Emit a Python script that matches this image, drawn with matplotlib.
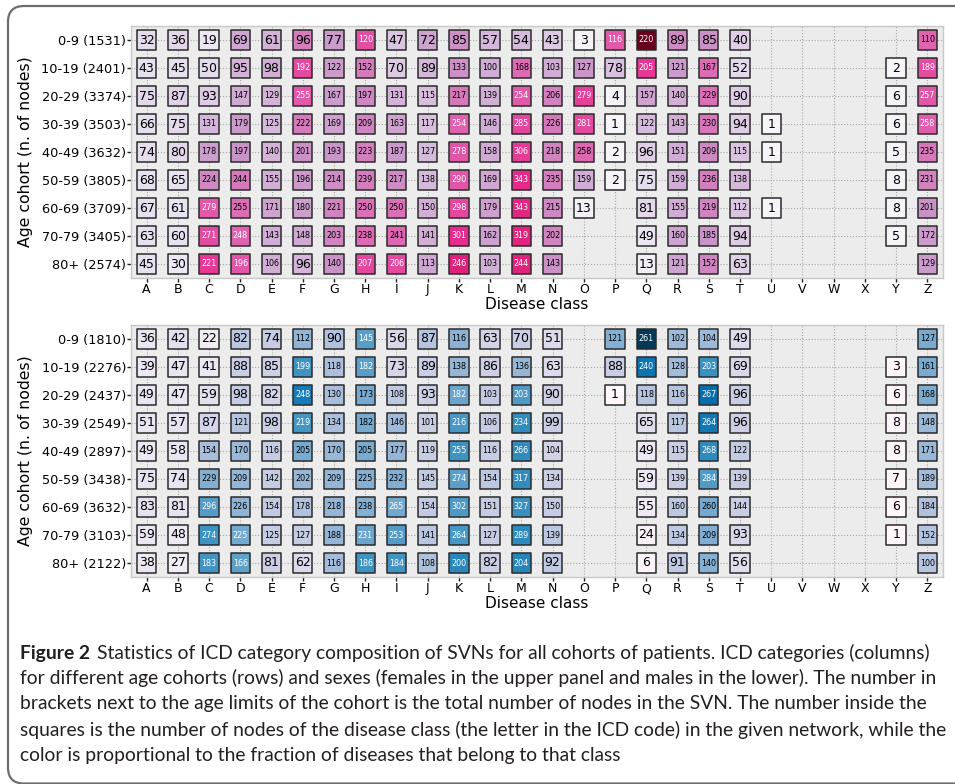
import numpy as np
import matplotlib
matplotlib.use("Agg")
import matplotlib.pyplot as plt
from matplotlib.patches import FancyBboxPatch

classes = list("ABCDEFGHIJKLMNOPQRSTUVWXYZ")
ages = ["0-9", "10-19", "20-29", "30-39", "40-49", "50-59", "60-69", "70-79", "80+"]

# total nodes per cohort network
female_totals = [1531, 2401, 3374, 3503, 3632, 3805, 3709, 3405, 2574]
male_totals = [1810, 2276, 2437, 2549, 2897, 3438, 3632, 3103, 2122]

# nodes per disease class (A..Z), 0 = class absent
female_counts = [
    [32, 36, 19, 69, 61, 96, 77, 120, 47, 72, 85, 57, 54, 43, 3, 116, 220, 89, 85, 40, 0, 0, 0, 0, 0, 110],
    [43, 45, 50, 95, 98, 192, 122, 152, 70, 89, 133, 100, 168, 103, 127, 78, 205, 121, 167, 52, 0, 0, 0, 0, 2, 189],
    [75, 87, 93, 147, 129, 255, 167, 197, 131, 115, 217, 139, 254, 206, 279, 4, 157, 140, 229, 90, 0, 0, 0, 0, 6, 257],
    [66, 75, 131, 179, 125, 222, 169, 209, 163, 117, 254, 146, 285, 226, 281, 1, 122, 143, 230, 94, 1, 0, 0, 0, 6, 258],
    [74, 80, 178, 197, 140, 201, 193, 223, 187, 127, 278, 158, 306, 218, 258, 2, 96, 151, 209, 115, 1, 0, 0, 0, 5, 235],
    [68, 65, 224, 244, 155, 196, 214, 239, 217, 138, 290, 169, 343, 235, 159, 2, 75, 159, 236, 138, 0, 0, 0, 0, 8, 231],
    [67, 61, 279, 255, 171, 180, 221, 250, 250, 150, 298, 179, 343, 215, 13, 0, 81, 155, 219, 112, 1, 0, 0, 0, 8, 201],
    [63, 60, 271, 248, 143, 148, 203, 238, 241, 141, 301, 162, 319, 202, 0, 0, 49, 160, 185, 94, 0, 0, 0, 0, 5, 172],
    [45, 30, 221, 196, 106, 96, 140, 207, 206, 113, 246, 103, 244, 143, 0, 0, 13, 121, 152, 63, 0, 0, 0, 0, 0, 129],
]
male_counts = [
    [36, 42, 22, 82, 74, 112, 90, 145, 56, 87, 116, 63, 70, 51, 0, 121, 261, 102, 104, 49, 0, 0, 0, 0, 0, 127],
    [39, 47, 41, 88, 85, 199, 118, 182, 73, 89, 138, 86, 136, 63, 0, 88, 240, 128, 203, 69, 0, 0, 0, 0, 3, 161],
    [49, 47, 59, 98, 82, 248, 130, 173, 108, 93, 182, 103, 203, 90, 0, 1, 118, 116, 267, 96, 0, 0, 0, 0, 6, 168],
    [51, 57, 87, 121, 98, 219, 134, 182, 146, 101, 216, 106, 234, 99, 0, 0, 65, 117, 264, 96, 0, 0, 0, 0, 8, 148],
    [49, 58, 154, 170, 116, 205, 170, 205, 177, 119, 255, 116, 266, 104, 0, 0, 49, 115, 268, 122, 0, 0, 0, 0, 8, 171],
    [75, 74, 229, 209, 142, 202, 209, 225, 232, 145, 274, 154, 317, 134, 0, 0, 59, 139, 284, 139, 0, 0, 0, 0, 7, 189],
    [83, 81, 296, 226, 154, 178, 218, 238, 265, 154, 302, 151, 327, 150, 0, 0, 55, 160, 260, 144, 0, 0, 0, 0, 6, 184],
    [59, 48, 274, 225, 125, 127, 188, 231, 253, 141, 264, 127, 289, 139, 0, 0, 24, 134, 209, 93, 0, 0, 0, 0, 1, 152],
    [38, 27, 183, 166, 81, 62, 116, 186, 184, 108, 200, 82, 204, 92, 0, 0, 6, 91, 140, 56, 0, 0, 0, 0, 0, 100],
]

caption_lines = [
    "Statistics of ICD category composition of SVNs for all cohorts of patients. ICD categories (columns)",
    "for different age cohorts (rows) and sexes (females in the upper panel and males in the lower). The number in",
    "brackets next to the age limits of the cohort is the total number of nodes in the SVN. The number inside the",
    "squares is the number of nodes of the disease class (the letter in the ICD code) in the given network, while the",
    "color is proportional to the fraction of diseases that belong to that class",
]

W, H = 955, 784
fig = plt.figure(figsize=(W / 100, H / 100), dpi=100)


def draw_panel(ax, counts, totals, cmap):
    counts = np.array(counts, dtype=float)
    frac = counts / np.array(totals, dtype=float)[:, None]
    vmax = frac.max()
    rows, cols = np.nonzero(counts)
    ax.set_facecolor("#ececec")
    ax.grid(True, ls=":", color="#a8a8a8", lw=0.8)
    ax.set_axisbelow(True)
    ax.scatter(cols, rows, c=frac[rows, cols], cmap=cmap, vmin=0, vmax=vmax,
               marker="s", s=195, edgecolors="#2a2a2a", linewidths=1.1, zorder=3)
    for r, c in zip(rows, cols):
        n = int(counts[r, c])
        col = "white" if frac[r, c] > vmax / 2 else "black"
        fs = 5.8 if n >= 100 else 9.0
        ax.text(c, r, str(n), ha="center", va="center", fontsize=fs, color=col, zorder=4)
    ax.set_xlim(-0.5, len(classes) - 0.5)
    ax.set_ylim(len(ages) - 0.5, -0.5)
    ax.set_xticks(range(len(classes)))
    ax.set_xticklabels(classes, fontsize=9)
    ax.set_yticks(range(len(ages)))
    ax.set_yticklabels([f"{a} ({t})" for a, t in zip(ages, totals)], fontsize=9.3)
    ax.tick_params(length=2.8, width=1, color="#222222", pad=0.8)
    for s in ax.spines.values():
        s.set_color("#c8c8c8")
        s.set_linewidth(1)
    ax.set_xlabel("Disease class", fontsize=11)
    ax.xaxis.set_label_coords(0.5, -0.0754)
    ax.set_ylabel("Age cohort (n. of nodes)", fontsize=11.3)
    ax.yaxis.set_label_coords(-0.121, 0.5)


ax1 = fig.add_axes([131 / W, 1 - 278 / H, 812 / W, 252 / H])
draw_panel(ax1, female_counts, female_totals, "PuRd")
ax2 = fig.add_axes([131 / W, 1 - 577 / H, 812 / W, 252 / H])
draw_panel(ax2, male_counts, male_totals, "PuBu")

# caption below the panels, sized so the longest line fits the frame
cap_font = ["Lato", "DejaVu Sans"]
cap_color = "#231f20"
renderer = fig.canvas.get_renderer()
probe = fig.text(0, 0, caption_lines[3], fontsize=10, family=cap_font)
cap_size = 10 * 928 / probe.get_window_extent(renderer).width
probe.remove()

line_y = [653, 678, 704, 730, 755]
t = fig.text(20 / W, 1 - line_y[0] / H, "Figure 2", fontsize=cap_size, fontweight="bold",
             family=cap_font, color=cap_color, va="center")
bb = t.get_window_extent(renderer)
fig.text((bb.x1 + 7) / W, 1 - line_y[0] / H, caption_lines[0], fontsize=cap_size,
         family=cap_font, color=cap_color, va="center")
for y, line in zip(line_y[1:], caption_lines[1:]):
    fig.text(20 / W, 1 - y / H, line, fontsize=cap_size, family=cap_font,
             color=cap_color, va="center")

# rounded frame around figure and caption
frame = FancyBboxPatch((8, 0.5), 1000, 777.5, boxstyle="round,pad=0,rounding_size=16",
                       transform=None, fill=False, edgecolor="#6e6e6e", lw=1.6)
fig.patches.append(frame)

fig.savefig("out.png", dpi=100)
